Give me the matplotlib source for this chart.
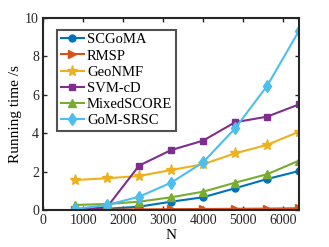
import matplotlib
matplotlib.use("Agg")
import matplotlib.pyplot as plt

plt.rcParams['font.family'] = ['Liberation Serif', 'DejaVu Serif']
plt.rcParams['mathtext.fontset'] = 'stix'

N = [800, 1600, 2400, 3200, 4000, 4800, 5600, 6400]
scgoma = [0.02, 0.06, 0.17, 0.43, 0.66, 1.13, 1.61, 2.03]
rmsp = [0.01, 0.02, 0.03, 0.04, 0.05, 0.06, 0.07, 0.09]
geonmf = [1.56, 1.65, 1.77, 2.08, 2.38, 2.95, 3.39, 4.08]
svmcd = [0.0, 0.15, 2.31, 3.12, 3.61, 4.57, 4.86, 5.50]
mixedscore = [0.26, 0.31, 0.43, 0.66, 0.95, 1.42, 1.86, 2.57]
gomsrsc = [0.05, 0.26, 0.69, 1.42, 2.48, 4.25, 6.46, 9.34]

labels = ['SCGoMA', 'RMSP', 'GeoNMF', 'SVM-cD', 'MixedSCORE', 'GoM-SRSC']
series = [scgoma, rmsp, geonmf, svmcd, mixedscore, gomsrsc]
colors = ['#0072BD', '#D95319', '#EDB120', '#7E2F8E', '#77AC30', '#4DBEEE']
markers = ['o', '>', '*', 's', '^', 'd']
msizes = [5, 6, 8, 5, 6, 6]

fig = plt.figure(figsize=(3.29, 2.47), dpi=100)
ax = fig.add_axes([0.131, 0.15, 0.778, 0.777])

for y, lab, c, m, ms in zip(series, labels, colors, markers, msizes):
    ax.plot(N, y, color=c, marker=m, markersize=ms, linewidth=1.5, label=lab)

ax.set_xlim(0, 6400)
ax.set_ylim(0, 10)
ax.set_xticks([0, 1000, 2000, 3000, 4000, 5000, 6000])
ax.set_yticks([0, 2, 4, 6, 8, 10])
ax.tick_params(direction='in', top=True, right=True, labelsize=10, length=3, width=1, colors='#262626', pad=3)
for s in ax.spines.values():
    s.set_linewidth(1.5)
    s.set_color('#262626')
ax.set_xlabel('N', fontsize=11, labelpad=1)
ax.set_ylabel('Running time /s', fontsize=11, labelpad=2)

leg = ax.legend(loc='upper left', bbox_to_anchor=(0.055, 0.94), fontsize=10.5, frameon=True,
                fancybox=False, handlelength=1.6, handletextpad=0.2, labelspacing=0.2,
                borderpad=0.25, borderaxespad=0)
leg.get_frame().set_edgecolor('#262626')
leg.get_frame().set_linewidth(1.5)

fig.savefig('out.png', dpi=100)
